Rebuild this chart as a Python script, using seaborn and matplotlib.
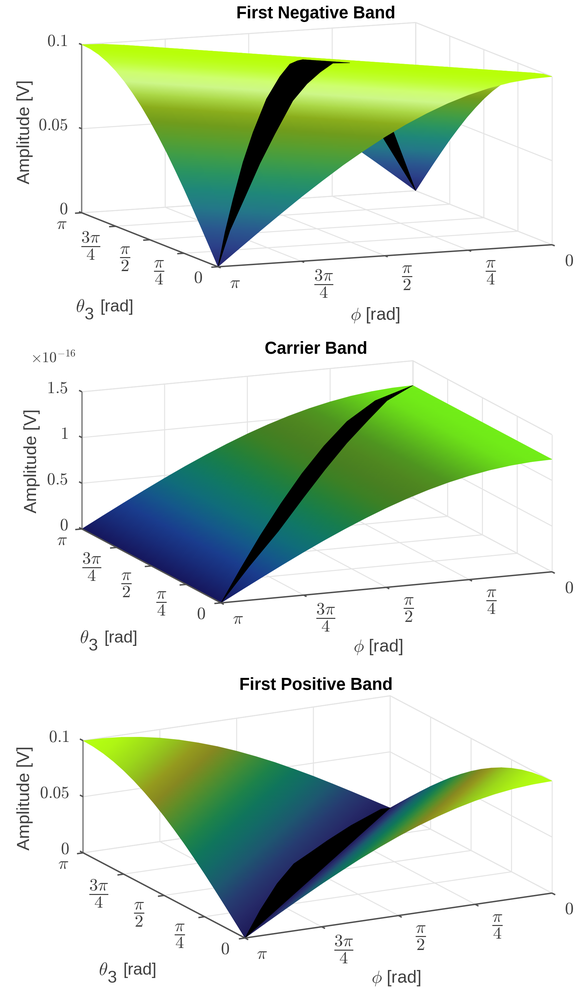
import numpy as np
import matplotlib
matplotlib.use('Agg')
import matplotlib.pyplot as plt
import seaborn as sns
from mpl_toolkits.mplot3d import proj3d
from PIL import Image

sns.set_theme(style='white')
plt.rcParams['font.family'] = 'Liberation Sans'
plt.rcParams['mathtext.fontset'] = 'cm'

# axes values, fractions of pi
grid_frac = [i / 16 for i in range(17)]
angle_ticks = [0, 0.25, 0.5, 0.75, 1]
angle_labels = ['$0$', r'$\dfrac{\pi}{4}$', r'$\dfrac{\pi}{2}$', r'$\dfrac{3\pi}{4}$', r'$\pi$']

# amplitude read along the surface edge, one step = pi/16
neg_profile = [.1000, .0995, .0981, .0957, .0924, .0882, .0831, .0773, .0707,
               .0634, .0556, .0471, .0383, .0290, .0195, .0098, 0]
carrier_profile = [1.23, 1.224, 1.206, 1.177, 1.136, 1.085, 1.023, .951, .870,
                   .780, .683, .580, .471, .357, .240, .121, 0]
pos_profile = [0, .0098, .0195, .0290, .0383, .0471, .0556, .0634, .0707,
               .0773, .0831, .0882, .0924, .0957, .0981, .0995, .1000]

# tables, rows theta3 = 0..pi, columns phi = 0..pi
neg_z = [[neg_profile[abs(i - j)] for j in range(17)] for i in range(17)]
carrier_z = [carrier_profile for i in range(17)]
pos_z = [[pos_profile[abs(i + j - 16)] for j in range(17)] for i in range(17)]

# black strips, closed outlines (theta3/pi, phi/pi, amplitude)
neg_near_theta = [0, .066, .128, .2025, .27, .355, .4295, .497, .52, .53,
                  .43, .4445, .3865, .3435, .299, .2235, .1665, .1095, .06]
neg_near_phi = [1, .952, .903, .8425, .785, .71, .6395, .582, .55, .53,
                .43, .4745, .5365, .5935, .654, .7385, .8065, .8745, .94]
neg_near_z = [0, .0178, .0345, .0536, .0684, .0846, .0946, .0991, .0999, .1,
              .1, .0999, .0972, .0924, .0846, .0684, .0536, .0363, .0187]
neg_far_theta = [1, .904, .77, .65, .525, .45, .595, .73, .858]
neg_far_phi = [0, .134, .27, .40, .525, .45, .345, .23, .123]
neg_far_z = [0, .0354, .071, .092, .100, .100, .092, .071, .0404]
car_theta = [0, .135, .269, .401, .532, .661, .788, .904, 1, .879, .743, .6125, .4825, .355, .23, .1165]
car_phi = [1, .885, .769, .651, .532, .411, .288, .154, 0, .129, .243, .3625, .4825, .605, .73, .8665]
car_z = [0, .221, .437, .641, .825, .982, 1.106, 1.194, 1.23, 1.205, 1.141, 1.036, .894, .714, .506, .256]
pos_theta = [0, .1785, .3545, .495, .593, .691, .8215, .9735, 1]
pos_phi = [1, .8565, .7085, .58, .473, .367, .2215, .0435, 0]
pos_z_strip = [0, .0055, .0099, .0118, .0104, .0091, .0068, .0027, 0]

# colours read along the height of each surface, low to high
neg_colors = ['#27246e', '#293288', '#2b4088', '#2b4d8c', '#2a5a90', '#276a8c', '#237a88',
              '#20827f', '#1f8a78', '#268f68', '#2f9a58', '#3f9d48', '#4f9f38', '#5f9e2a',
              '#6f9c1c', '#80a018', '#98c020', '#b8e860', '#d8ffa0', '#c4ff40', '#b8ff08']
car_colors = ['#16165c', '#182a78', '#1a3f90', '#155a8a', '#0f6f78', '#107a60',
              '#1d8040', '#3a8025', '#4f7f20', '#4f9a20', '#72ee18']
pos_colors = ['#1e1a58', '#262a68', '#263f72', '#1d5a70', '#126c66', '#0f7a58',
              '#2a8a40', '#5f8f28', '#96861e', '#92c81e', '#b4ff12']

W, H = 576, 987
GRID = '#e4e4e4'
AXC = '#505050'
TXT = '#404040'
FS = 3

fig = plt.figure(figsize=(W / 100, H / 100), dpi=100 * FS)
ov = fig.add_axes([0, 0, 1, 1], zorder=5)
ov.set_xlim(0, W)
ov.set_ylim(H, 0)
ov.axis('off')


def draw_panel(title, z_table, colors, z_max, z_top, z_ticks, z_labels, strips, diag,
               near, right_x, aspect, elev, az, amp_xy, th_xy, ph_xy, title_xy):
    ax = fig.add_axes([0, 0, 0.01, 0.01], projection='3d', proj_type='ortho')
    ax.set_xlim(np.pi, 0)
    ax.set_ylim(0, np.pi)
    ax.set_zlim(0, z_top)
    ax.set_box_aspect((1, 1, aspect))
    ax.view_init(elev=elev, azim=-90 - az)
    ax.set_axis_off()
    M = ax.get_proj()
    X0, Y0, _ = proj3d.proj_transform(np.pi, 0, 0, M)
    X1, _, _ = proj3d.proj_transform(0, 0, 0, M)
    k = (right_x - near[0]) / (X1 - X0)

    def px(th, ph, z):
        X, Y, d = proj3d.proj_transform(np.asarray(ph, float) * np.pi, np.asarray(th, float) * np.pi,
                                        np.asarray(z, float), M)
        return near[0] + k * (X - X0), near[1] - k * (Y - Y0), d

    def seg(th, ph, z, **kw):
        x, y, _ = px(th, ph, z)
        ov.plot(x, y, solid_capstyle='butt', **kw)

    # walls and floor grid
    g = dict(color=GRID, lw=0.7, zorder=1)
    for t in angle_ticks:
        if t > 0:
            seg([t, t, t], [1, 0, 0], [0, 0, z_top], **g)
        if t < 1:
            seg([0, 1, 1], [t, t, t], [0, 0, z_top], **g)
    for z in z_ticks + [z_top]:
        seg([1, 1, 0], [1, 0, 0], [z, z, z], **g)
    seg([0, 0], [0, 0], [0, z_top], **g)
    seg([1, 1], [0, 0], [0, z_top], **g)

    # surface, gouraud triangles in back to front order
    Z = np.array(z_table, float)
    gf = np.array(grid_frac)
    TH, PH = np.meshgrid(gf, gf, indexing='ij')
    x, y, d = px(TH.ravel(), PH.ravel(), Z.ravel())
    n = len(gf)
    tris = []
    for i in range(n - 1):
        for j in range(n - 1):
            a, b, c, e = i * n + j, i * n + j + 1, (i + 1) * n + j, (i + 1) * n + j + 1
            if diag == 'main':
                tris += [[a, b, e], [a, c, e]]
            else:
                tris += [[a, b, c], [b, c, e]]
    tris = np.array(tris)
    tris = tris[np.argsort(-d[tris].mean(axis=1))]
    cmap = sns.blend_palette(colors, n_colors=256, as_cmap=True)
    c = Z.ravel() / z_max

    def surf(sel, zo):
        ov.tripcolor(x, y, sel, c, cmap=cmap, vmin=0, vmax=1, shading='gouraud', zorder=zo)

    def strip(s, zo):
        sx, sy, _ = px(s[0], s[1], s[2])
        ov.fill(sx, sy, color='black', lw=0.3, zorder=zo)

    if len(strips) == 2:
        # far half goes first so the ridge hides its strip
        far = TH.ravel()[tris].mean(axis=1) > PH.ravel()[tris].mean(axis=1)
        surf(tris[far], 2)
        strip(strips[1], 3)
        surf(tris[~far], 4)
        strip(strips[0], 5)
    else:
        surf(tris, 2)
        strip(strips[0], 5)

    # axis lines and ticks
    a = dict(color=AXC, lw=1.0, zorder=6)
    seg([0, 1], [1, 1], [0, 0], **a)
    seg([0, 0], [1, 0], [0, 0], **a)
    seg([1, 1], [1, 1], [0, z_top], color='#808080', lw=1.0, zorder=1)
    tl = 0.02
    for t, lab in zip(angle_ticks, angle_labels):
        seg([t, t], [1, 1 + tl], [0, 0], **a)
        seg([0, -tl], [t, t], [0, 0], **a)
        tx, ty, _ = px(t, 1, 0)
        single = t in (0, 1)
        ov.text(tx - (20 if single else 25), ty + (11 if single else 19), lab, fontsize=12.5,
                color=TXT, ha='center', va='center', zorder=7)
        tx, ty, _ = px(0, t, 0)
        ov.text(tx + (17 if single else 22), ty + (16 if single else 22), lab, fontsize=12.5,
                color=TXT, ha='center', va='center', zorder=7)
    for z, lab in zip(z_ticks, z_labels):
        seg([1, 1 + tl], [1, 1], [z, z], **a)
        tx, ty, _ = px(1, 1, z)
        ov.text(tx - 14, ty - 3.5, lab, fontsize=12, color=TXT, ha='right', va='center', zorder=7)

    ov.text(*amp_xy, 'Amplitude [V]', rotation=90, fontsize=12.6, color=TXT, ha='center', va='center', zorder=7)
    ov.text(th_xy[0], th_xy[1], r'$\theta$', fontsize=13, color=TXT, ha='center', va='center', zorder=7)
    ov.text(th_xy[0] + 9, th_xy[1] + 8, '3', fontsize=12, color=TXT, ha='center', va='center', zorder=7)
    ov.text(th_xy[0] + 20, th_xy[1], '[rad]', fontsize=12, color=TXT, ha='left', va='center', zorder=7)
    ov.text(*ph_xy, r'$\phi$ [rad]', fontsize=12.5, color=TXT, ha='center', va='center', zorder=7)
    ov.text(*title_xy, title, fontsize=12.2, fontweight='bold', color='black', ha='center', va='center', zorder=7)


draw_panel('First Negative Band', neg_z, neg_colors, 0.1, 0.1, [0, 0.05, 0.1], ['$0$', '$0.05$', '$0.1$'],
           [(neg_near_theta, neg_near_phi, neg_near_z), (neg_far_theta, neg_far_phi, neg_far_z)], 'main',
           (218, 267), 552, 170 / 360, 9.3, 22.2, (25, 132), (80, 307), (375, 315), (316, 14))
draw_panel('Carrier Band', carrier_z, car_colors, 1.23, 1.5, [0, 0.5, 1, 1.5], ['$0$', '$0.5$', '$1$', '$1.5$'],
           [(car_theta, car_phi, car_z)], 'anti',
           (221, 603), 552, 141 / 360, 12.9, 22.8, (32, 461), (84, 638), (378, 647), (316, 349))
draw_panel('First Positive Band', pos_z, pos_colors, 0.1, 0.1, [0, 0.05, 0.1], ['$0$', '$0.05$', '$0.1$'],
           [(pos_theta, pos_phi, pos_z_strip)], 'anti',
           (245, 938), 552, 117 / 348, 16.1, 27.8, (25, 798), (103, 970), (396, 978), (316, 685))
ov.text(53, 358, r'$\times10^{-16}$', fontsize=10.5, color=TXT, ha='center', va='center', zorder=7)

fig.patch.set_facecolor('white')
fig.canvas.draw()
big = Image.fromarray(np.asarray(fig.canvas.buffer_rgba())).convert('RGB')
big.resize((W, H), Image.LANCZOS).save('out.png')
